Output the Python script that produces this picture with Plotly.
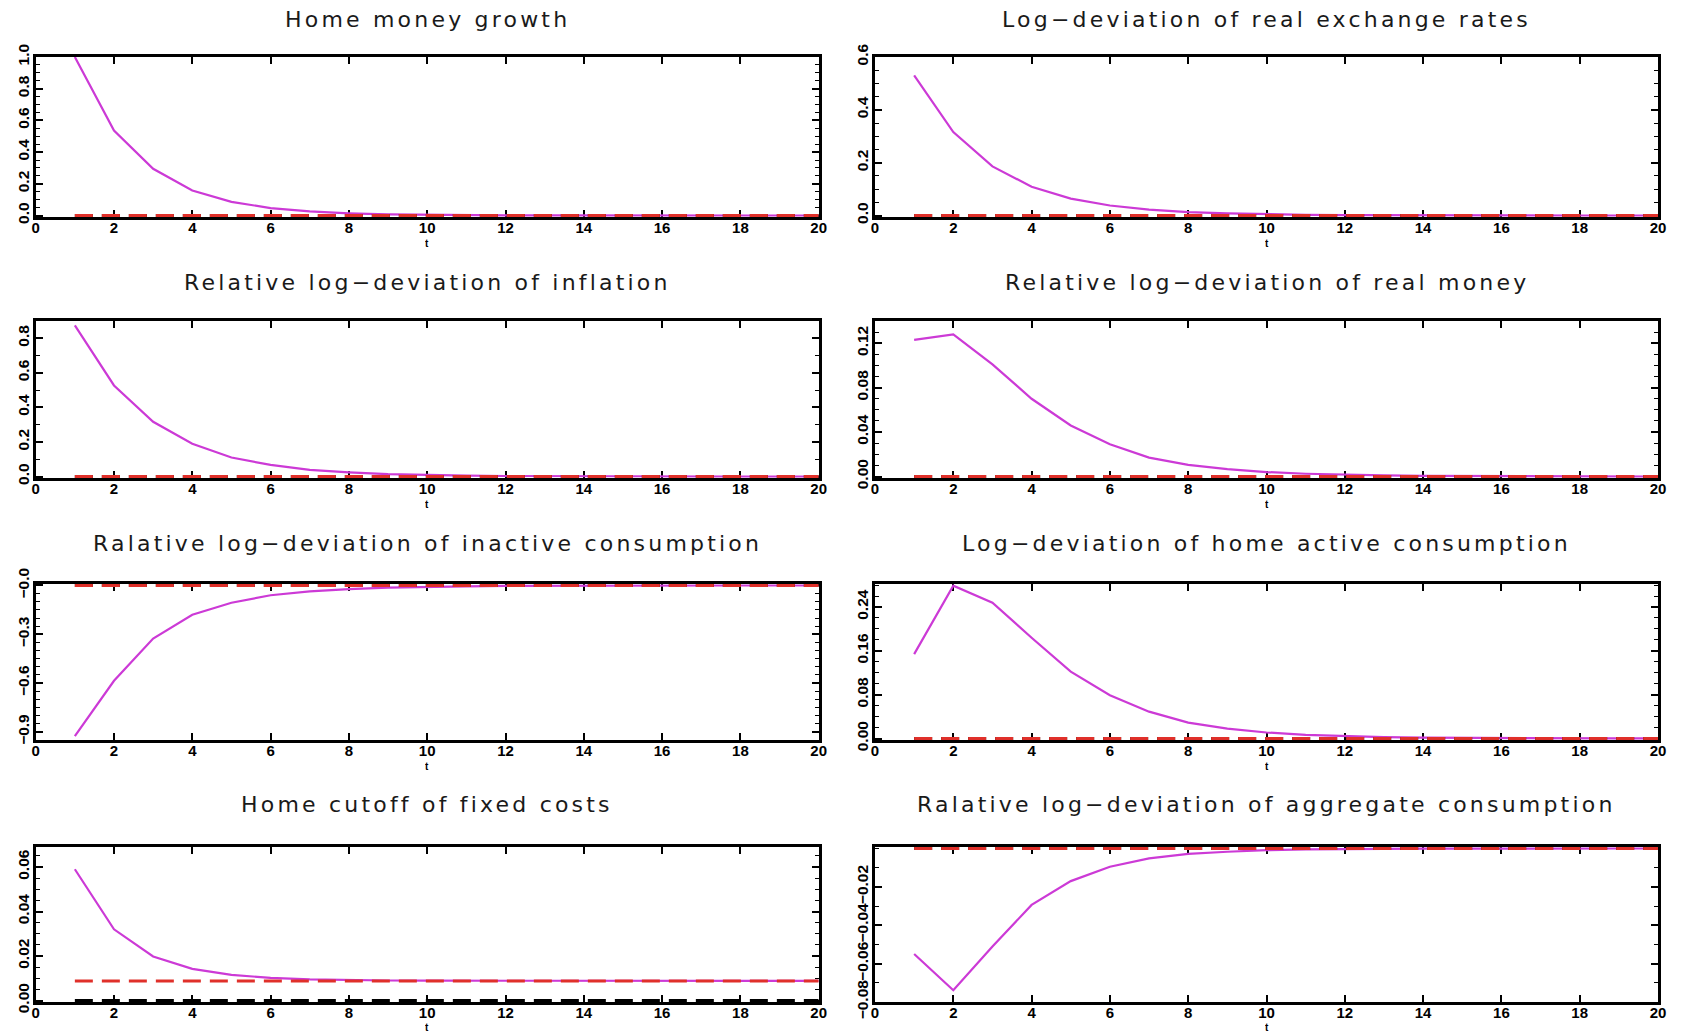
import numpy as np
import plotly.graph_objects as go

# Impulse responses to a home money-growth shock, periods t = 1..20
t = list(range(1, 21))

money_growth = [1.0, 0.536, 0.295, 0.158, 0.086, 0.047, 0.026, 0.014, 0.0075, 0.004,
                0.0022, 0.0012, 0.0007, 0.0004, 0.0002, 0.0001, 0.0001, 0.0, 0.0, 0.0]
real_exchange = [0.53, 0.316, 0.186, 0.109, 0.064, 0.038, 0.022, 0.013, 0.008, 0.0045,
                 0.0027, 0.0016, 0.0009, 0.0005, 0.0003, 0.0002, 0.0001, 0.0001, 0.0, 0.0]
inflation = [0.875, 0.527, 0.317, 0.19, 0.11, 0.067, 0.039, 0.024, 0.014, 0.0085,
             0.005, 0.003, 0.0018, 0.0011, 0.0006, 0.0004, 0.0002, 0.0001, 0.0001, 0.0]
real_money = [0.123, 0.128, 0.101, 0.070, 0.046, 0.029, 0.017, 0.0105, 0.0066, 0.004,
              0.0025, 0.0015, 0.001, 0.0006, 0.0004, 0.0002, 0.0001, 0.0001, 0.0, 0.0]
inactive_cons = [-0.926, -0.586, -0.326, -0.18, -0.106, -0.06, -0.036, -0.022, -0.013, -0.008,
                 -0.005, -0.003, -0.0018, -0.001, -0.0006, -0.0004, -0.0002, -0.0001, -0.0001, 0.0]
active_cons = [0.154, 0.279, 0.248, 0.184, 0.122, 0.079, 0.049, 0.029, 0.018, 0.011,
               0.0065, 0.004, 0.0025, 0.0015, 0.001, 0.0006, 0.0004, 0.0002, 0.0001, 0.0001]
cutoff = [0.059, 0.032, 0.0198, 0.0142, 0.0115, 0.0102, 0.0095, 0.0091, 0.009, 0.0089,
          0.0089, 0.0088, 0.0088, 0.0088, 0.0088, 0.0088, 0.0088, 0.0088, 0.0088, 0.0088]
aggregate_cons = [-0.055, -0.0739, -0.0511, -0.0294, -0.017, -0.0095, -0.0052, -0.0028, -0.0017, -0.0009,
                  -0.0005, -0.0003, -0.0002, -0.0001, -0.0001, 0.0, 0.0, 0.0, 0.0, 0.0]

# Steady-state level of each variable (red dashed reference)
steady_levels = [0.0, 0.0, 0.0, 0.0, 0.0, 0.0, 0.0088, 0.0]

titles = [
    "Home money growth",
    "Log\u2212deviation of real exchange rates",
    "Relative log\u2212deviation of inflation",
    "Relative log\u2212deviation of real money",
    "Ralative log\u2212deviation of inactive consumption",
    "Log\u2212deviation of home active consumption",
    "Home cutoff of fixed costs",
    "Ralative log\u2212deviation of aggregate consumption",
]
series = [money_growth, real_exchange, inflation, real_money,
          inactive_cons, active_cons, cutoff, aggregate_cons]

x_ticks = list(range(0, 21, 2))
x_ticklabels = [str(v) for v in x_ticks]

y_ticks = [
    [0.0, 0.2, 0.4, 0.6, 0.8, 1.0],
    [0.0, 0.2, 0.4, 0.6],
    [0.0, 0.2, 0.4, 0.6, 0.8],
    [0.0, 0.04, 0.08, 0.12],
    [-0.9, -0.6, -0.3, 0.0],
    [0.0, 0.08, 0.16, 0.24],
    [0.0, 0.02, 0.04, 0.06],
    [-0.08, -0.06, -0.04, -0.02],
]
y_ticklabels = [
    ["0.0", "0.2", "0.4", "0.6", "0.8", "1.0"],
    ["0.0", "0.2", "0.4", "0.6"],
    ["0.0", "0.2", "0.4", "0.6", "0.8"],
    ["0.00", "0.04", "0.08", "0.12"],
    ["\u22120.9", "\u22120.6", "\u22120.3", "\u22120.0"],
    ["0.00", "0.08", "0.16", "0.24"],
    ["0.00", "0.02", "0.04", "0.06"],
    ["\u22120.08", "\u22120.06", "\u22120.04", "\u22120.02"],
]

# Axis styling per panel: (y range, minor tick step, edge holding the zero line)
y_axis_style = [
    ((0.0, 1.0), 0.05, "bottom"),
    ((0.0, 0.6), 0.05, "bottom"),
    ((0.0, 0.9), 0.1, "bottom"),
    ((0.0, 0.14), 0.01, "bottom"),
    ((-0.95, 0.0), 0.05, "top"),
    ((0.0, 0.282), 0.02, "bottom"),
    ((0.0, 0.069), 0.005, "bottom"),
    ((-0.08, 0.0), 0.01, "top"),
]

W, H = 1685, 1032
col_px = [(35.7, 818.7), (875.0, 1658.0)]
row_px = [(57.0, 217.0), (321.0, 478.0), (584.0, 740.0), (847.0, 1002.0)]
title_y_px = [19.0, 282.0, 543.0, 804.0]
T_LABEL_OFFSET_PX = 26
T_LABEL_HEIGHT_PX = 10
EDGE_PAD_PX = 1.5  # keeps the dashed zero line visible on top of the frame

MAGENTA = "#CC3AD6"
RED = "#E0302A"
X_TICK_FONT = dict(family="Liberation Sans", size=15, color="black", weight="bold")
Y_TICK_FONT = dict(family="Liberation Sans", size=15.5, color="black", weight="bold")

fig = go.Figure()
layout_axes = {}
annotations = []

for i in range(8):
    r, c = divmod(i, 2)
    n = i + 1
    xa = "x" if n == 1 else f"x{n}"
    ya = "y" if n == 1 else f"y{n}"
    xkey = "xaxis" if n == 1 else f"xaxis{n}"
    ykey = "yaxis" if n == 1 else f"yaxis{n}"

    ss = [steady_levels[i]] * len(t)
    zero = [0.0] * len(t)

    fig.add_trace(go.Scatter(x=t, y=series[i], mode="lines", xaxis=xa, yaxis=ya,
                             line=dict(color=MAGENTA, width=2.2), showlegend=False,
                             hoverinfo="skip"))
    fig.add_trace(go.Scatter(x=t, y=zero, mode="lines", xaxis=xa, yaxis=ya,
                             line=dict(color="black", width=3, dash="18px,9px"),
                             showlegend=False, hoverinfo="skip"))
    fig.add_trace(go.Scatter(x=t, y=ss, mode="lines", xaxis=xa, yaxis=ya,
                             line=dict(color=RED, width=3, dash="18px,9px"),
                             showlegend=False, hoverinfo="skip"))

    x0, x1 = col_px[c]
    y0, y1 = row_px[r]
    (ylo, yhi), mstep, edge = y_axis_style[i]
    minor_vals = [float(v) for v in np.round(np.arange(ylo, yhi + mstep * 0.5, mstep), 6)]
    pad = (yhi - ylo) * EDGE_PAD_PX / (y1 - y0)
    yrange = [ylo - pad, yhi] if edge == "bottom" else [ylo, yhi + pad]

    layout_axes[xkey] = dict(
        domain=[x0 / W, x1 / W], anchor=ya, range=[0, 20], automargin=False,
        tickmode="array", tickvals=x_ticks, ticktext=x_ticklabels,
        ticks="inside", ticklen=7, tickwidth=1.5, tickcolor="black",
        showline=True, linewidth=3, linecolor="black", mirror="allticks",
        showgrid=False, zeroline=False, layer="below traces",
        tickfont=X_TICK_FONT, ticklabelstandoff=-5,
    )
    layout_axes[ykey] = dict(
        domain=[1 - y1 / H, 1 - y0 / H], anchor=xa, range=yrange, automargin=False,
        tickmode="array", tickvals=y_ticks[i], ticktext=y_ticklabels[i],
        ticks="inside", ticklen=7, tickwidth=1.5, tickcolor="black", tickangle=-90,
        showline=True, linewidth=3, linecolor="black", mirror="allticks",
        showgrid=False, zeroline=False, layer="below traces",
        tickfont=Y_TICK_FONT, ticklabelstandoff=-2,
        minor=dict(tickmode="array", tickvals=minor_vals, ticks="inside", ticklen=4,
                   tickwidth=1, tickcolor="black", showgrid=False),
    )

    annotations.append(dict(
        text=f'<span style="letter-spacing:3.2px">{titles[i]}</span>',
        xref="paper", yref="paper", x=(x0 + x1) / 2 / W, y=1 - title_y_px[r] / H,
        xanchor="center", yanchor="middle", showarrow=False,
        font=dict(family="DejaVu Sans", size=22, color="#1a1a1a"),
    ))
    t_center = min(y1 + T_LABEL_OFFSET_PX, H - T_LABEL_HEIGHT_PX / 2)
    annotations.append(dict(
        text="t", xref="paper", yref="paper", x=(x0 + x1) / 2 / W,
        y=1 - t_center / H, height=T_LABEL_HEIGHT_PX, borderpad=0,
        xanchor="center", yanchor="middle", showarrow=False,
        font=dict(family="Liberation Sans", size=10, color="black", weight="bold"),
    ))

fig.update_layout(
    width=W, height=H,
    margin=dict(l=0, r=0, t=0, b=0, autoexpand=False),
    paper_bgcolor="white", plot_bgcolor="white",
    showlegend=False,
    annotations=annotations,
    **layout_axes,
)

fig.write_html("out.html", config={"displayModeBar": False})
